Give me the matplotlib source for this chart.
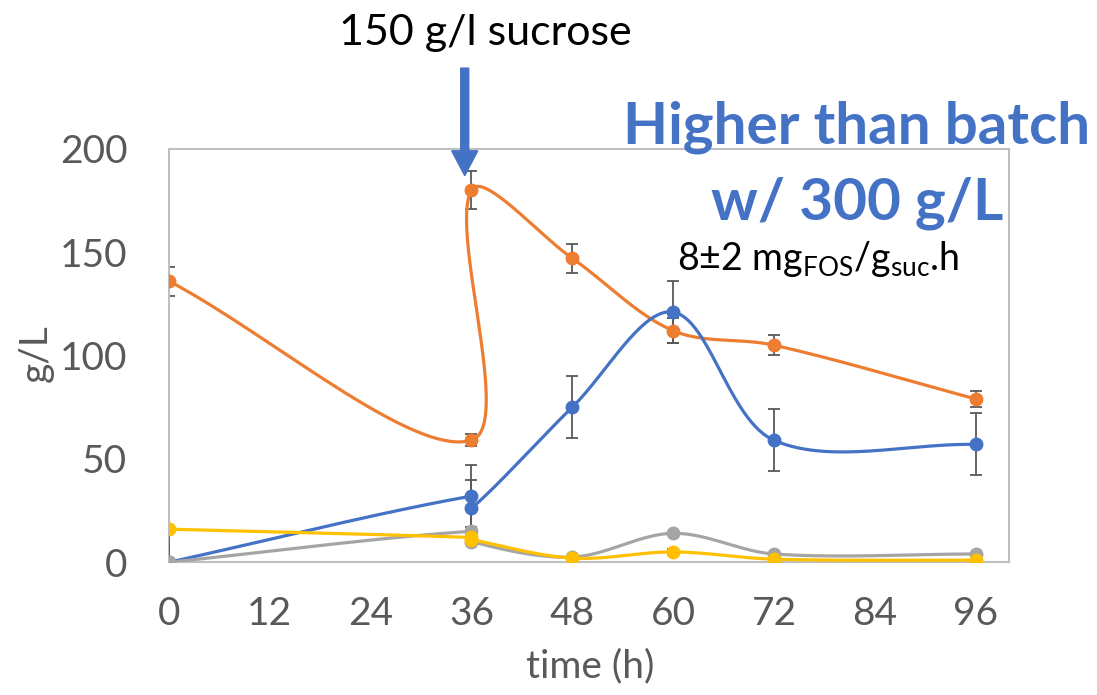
import matplotlib
matplotlib.use("Agg")
import matplotlib.pyplot as plt
import matplotlib.patches as mpatches
import numpy as np

plt.rcParams["font.family"] = ["Lato", "DejaVu Sans"]
plt.rcParams["mathtext.fontset"] = "custom"
plt.rcParams["mathtext.rm"] = "Lato"
plt.rcParams["mathtext.it"] = "Lato"
plt.rcParams["mathtext.bf"] = "Lato:bold"

# time points (h) -- 36 h appears twice (before / after the 150 g/l feed)
time = [0, 36, 36, 48, 60, 72, 96]

sucrose = [136, 59, 180, 147, 112, 105, 79]
sucrose_err = [7, 3, 9, 7, 6, 5, 4]

fos = [0, 32, 26, 75, 121, 59, 57]
fos_err_lo = [0, 15, 14, 15, 15, 15, 15]
fos_err_hi = [16, 15, 14, 15, 15, 15, 15]

glucose = [0, 15, 10, 2.5, 14, 4, 4]

fructose = [16, 12, 11, 2, 5, 1.5, 1]
fructose_err = [0, 0, 0, 0, 1.5, 0, 0]

x_ticks = [0, 12, 24, 36, 48, 60, 72, 84, 96]
y_ticks = [0, 50, 100, 150, 200]

ORANGE = "#ED7D31"
BLUE = "#4472C4"
GRAY = "#A5A5A5"
YELLOW = "#FFC000"
TXT = "#595959"


def excel_smooth(x, y, sx, sy, n=60):
    # bezier smoothing like Excel's "smoothed line", done in pixel space,
    # control arms scaled by neighbouring segment lengths
    pts = np.column_stack([np.asarray(x, float) * sx, np.asarray(y, float) * sy])
    out = []
    for i in range(len(pts) - 1):
        p0 = pts[i - 1] if i > 0 else pts[i]
        p1, p2 = pts[i], pts[i + 1]
        p3 = pts[i + 2] if i + 2 < len(pts) else pts[i + 1]
        d01 = np.hypot(*(p1 - p0))
        d12 = np.hypot(*(p2 - p1))
        d23 = np.hypot(*(p3 - p2))
        c1 = p1 + (p2 - p0) * d12 / max(d01 + d12, 1e-9) / 3
        c2 = p2 - (p3 - p1) * d12 / max(d12 + d23, 1e-9) / 3
        t = np.linspace(0, 1, n)[:, None]
        out.append((1 - t) ** 3 * p1 + 3 * (1 - t) ** 2 * t * c1
                   + 3 * (1 - t) * t ** 2 * c2 + t ** 3 * p2)
    arr = np.vstack(out)
    return arr[:, 0] / sx, arr[:, 1] / sy


fig = plt.figure(figsize=(10.97, 6.95), dpi=100)
ax = fig.add_axes([0.154, 0.191, 0.766, 0.595])
ax.set_xlim(0, 100)
ax.set_ylim(0, 200)

bbox = ax.get_position()
sx = bbox.width * 1097 / 100
sy = bbox.height * 695 / 200

series = [
    (sucrose, ORANGE, (sucrose_err, sucrose_err)),
    (fos, BLUE, (fos_err_lo, fos_err_hi)),
    (glucose, GRAY, None),
    (fructose, YELLOW, (fructose_err, fructose_err)),
]
for z, (vals, col, err) in enumerate(series):
    xs, ys = excel_smooth(time, vals, sx, sy)
    ax.plot(xs, ys, color=col, lw=2.3, zorder=3 + z, solid_capstyle="round")
    if err is not None:
        ax.errorbar(time, vals, yerr=[err[0], err[1]], fmt="none", ecolor=TXT,
                    elinewidth=1.3, capsize=4.5, capthick=1.3, zorder=2 + z)
    ax.plot(time, vals, "o", color=col, ms=9, mec=col, zorder=3.5 + z)

ax.set_xticks(x_ticks)
ax.set_yticks(y_ticks)
ax.tick_params(length=0, labelsize=28, labelcolor=TXT)
ax.tick_params(axis="y", pad=30)
ax.tick_params(axis="x", pad=24)
for s in ax.spines.values():
    s.set_color("#BFBFBF")
    s.set_linewidth(1.5)

fig.text(36 / 1097, 1 - 353 / 695, "g/L", rotation=90, ha="center", va="center",
         fontsize=28, color=TXT)
fig.text(590 / 1097, 1 - 666 / 695, "time (h)", ha="center", va="center",
         fontsize=28, color=TXT)

fig.text(485 / 1097, 1 - 45 / 695, "150 g/l sucrose", ha="center", va="baseline",
         fontsize=31, color="black")
fig.text(1090 / 1097, 1 - 143 / 695, "Higher than batch", ha="right", va="baseline",
         fontsize=42, fontweight="bold", color=BLUE)
fig.text(1003 / 1097, 1 - 220 / 695, "w/ 300 g/L", ha="right", va="baseline",
         fontsize=42, fontweight="bold", color=BLUE)
fig.text(677 / 1097, 1 - 270 / 695,
         r"8$\pm$2 mg$_{\mathrm{FOS}}$/g$_{\mathrm{suc}}$.h",
         ha="left", va="baseline", fontsize=27, color="black")

# feed arrow at ~35 h
arrow = mpatches.FancyArrow(35.2, 239, 0, -52, width=0.95, head_width=3.1,
                            head_length=12, length_includes_head=True,
                            color=BLUE, clip_on=False, zorder=10)
ax.add_patch(arrow)

fig.savefig("out.png", dpi=100)
